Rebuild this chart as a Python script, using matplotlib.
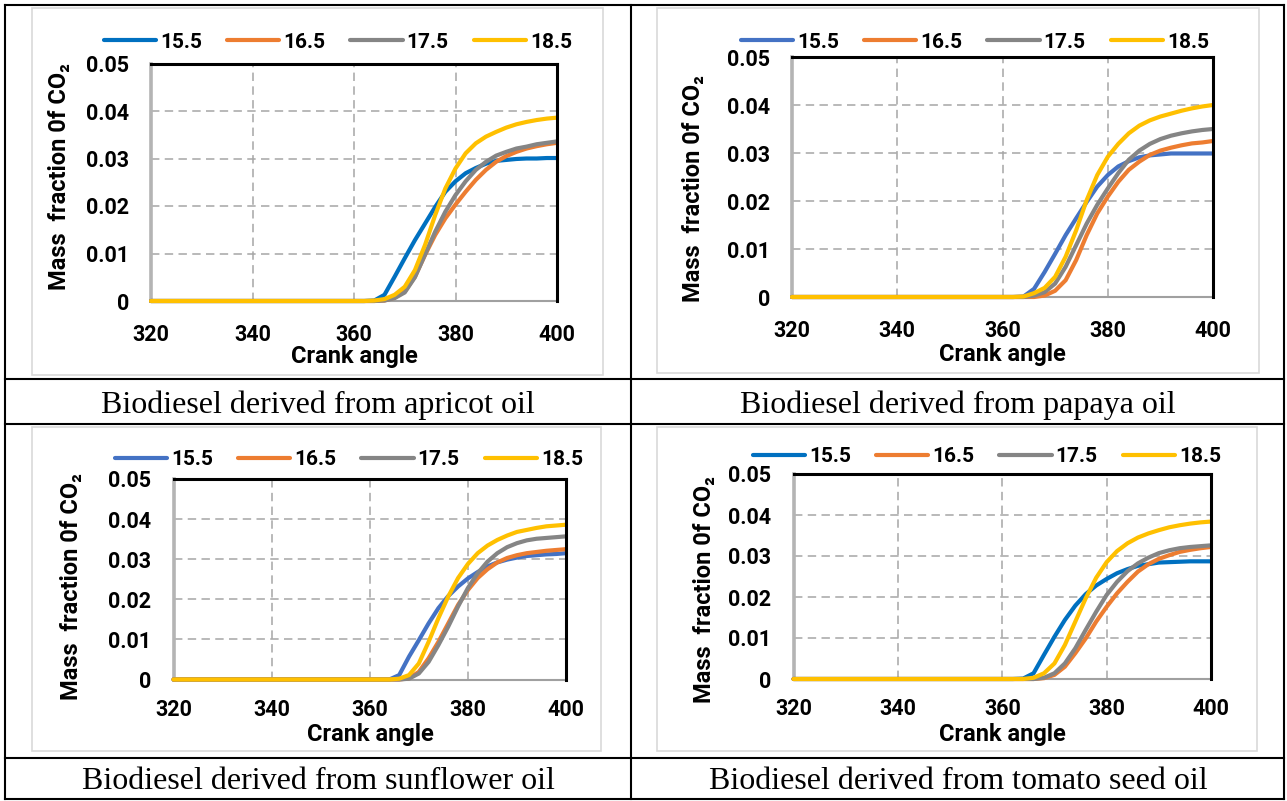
import matplotlib
matplotlib.use("Agg")
import matplotlib.pyplot as plt
from matplotlib.lines import Line2D
from matplotlib.patches import Rectangle

W, H = 1287, 801

# Crank angle samples (deg)
crank_angle = [320, 360, 362, 364, 366, 368, 370, 372, 374, 376, 378,
               380, 382, 384, 386, 388, 390, 392, 394, 396, 398, 400]

series_names = ["15.5", "16.5", "17.5", "18.5"]

# Mass fraction of CO2, apricot oil biodiesel
apricot_155 = [0, 0, 0, 0.0001, 0.0013, 0.0051, 0.0090, 0.0128, 0.0163, 0.0198, 0.0230,
               0.0252, 0.0269, 0.0280, 0.0289, 0.0295, 0.0297, 0.0299, 0.0300, 0.0300, 0.0301, 0.0301]
apricot_165 = [0, 0, 0, 0, 0.0001, 0.0007, 0.0020, 0.0051, 0.0097, 0.0139, 0.0174,
               0.0203, 0.0230, 0.0255, 0.0276, 0.0293, 0.0305, 0.0314, 0.0321, 0.0326, 0.0330, 0.0333]
apricot_175 = [0, 0, 0, 0, 0.0001, 0.0006, 0.0018, 0.0050, 0.0098, 0.0146, 0.0188,
               0.0223, 0.0252, 0.0276, 0.0293, 0.0306, 0.0314, 0.0321, 0.0325, 0.0330, 0.0333, 0.0336]
apricot_185 = [0, 0, 0, 0.0001, 0.0004, 0.0013, 0.0030, 0.0065, 0.0118, 0.0181, 0.0237,
               0.0279, 0.0311, 0.0332, 0.0346, 0.0356, 0.0365, 0.0372, 0.0377, 0.0381, 0.0384, 0.0386]

# Papaya oil biodiesel
papaya_155 = [0, 0, 0, 0.0001, 0.0017, 0.0052, 0.0090, 0.0129, 0.0164, 0.0198, 0.0230,
              0.0254, 0.0272, 0.0283, 0.0291, 0.0295, 0.0297, 0.0299, 0.0299, 0.0299, 0.0299, 0.0299]
papaya_165 = [0, 0, 0, 0, 0, 0.0003, 0.0013, 0.0035, 0.0077, 0.0129, 0.0174,
              0.0209, 0.0240, 0.0265, 0.0282, 0.0296, 0.0305, 0.0311, 0.0316, 0.0320, 0.0322, 0.0325]
papaya_175 = [0, 0, 0, 0, 0.0003, 0.0010, 0.0028, 0.0063, 0.0108, 0.0153, 0.0192,
              0.0226, 0.0258, 0.0286, 0.0305, 0.0319, 0.0329, 0.0336, 0.0341, 0.0345, 0.0348, 0.0350]
papaya_185 = [0, 0, 0, 0.0001, 0.0008, 0.0019, 0.0042, 0.0084, 0.0139, 0.0202, 0.0254,
              0.0292, 0.0319, 0.0341, 0.0357, 0.0368, 0.0376, 0.0382, 0.0388, 0.0393, 0.0397, 0.0400]

# Sunflower oil biodiesel
sunflower_155 = [0, 0, 0, 0, 0.0011, 0.0057, 0.0098, 0.0140, 0.0178, 0.0208, 0.0232,
                 0.0252, 0.0268, 0.0282, 0.0292, 0.0299, 0.0304, 0.0308, 0.0310, 0.0312, 0.0313, 0.0315]
sunflower_165 = [0, 0, 0, 0, 0, 0.0003, 0.0019, 0.0053, 0.0094, 0.0140, 0.0186,
                 0.0223, 0.0253, 0.0275, 0.0292, 0.0303, 0.0310, 0.0315, 0.0318, 0.0321, 0.0323, 0.0325]
sunflower_175 = [0, 0, 0, 0, 0, 0.0002, 0.0015, 0.0044, 0.0086, 0.0132, 0.0182,
                 0.0228, 0.0265, 0.0294, 0.0315, 0.0330, 0.0340, 0.0347, 0.0351, 0.0353, 0.0355, 0.0357]
sunflower_185 = [0, 0, 0, 0, 0.0002, 0.0011, 0.0040, 0.0094, 0.0153, 0.0207, 0.0253,
                 0.0288, 0.0315, 0.0334, 0.0348, 0.0359, 0.0368, 0.0373, 0.0378, 0.0382, 0.0384, 0.0386]

# Tomato seed oil biodiesel
tomato_155 = [0, 0, 0, 0.0001, 0.0014, 0.0059, 0.0103, 0.0144, 0.0179, 0.0207, 0.0228,
              0.0244, 0.0258, 0.0268, 0.0276, 0.0280, 0.0284, 0.0285, 0.0286, 0.0287, 0.0287, 0.0287]
tomato_165 = [0, 0, 0, 0, 0, 0.0002, 0.0010, 0.0030, 0.0063, 0.0099, 0.0140,
              0.0176, 0.0209, 0.0237, 0.0262, 0.0280, 0.0293, 0.0302, 0.0310, 0.0315, 0.0319, 0.0322]
tomato_175 = [0, 0, 0, 0, 0, 0.0003, 0.0014, 0.0038, 0.0075, 0.0120, 0.0164,
              0.0205, 0.0237, 0.0263, 0.0282, 0.0296, 0.0307, 0.0314, 0.0319, 0.0322, 0.0324, 0.0326]
tomato_185 = [0, 0, 0, 0, 0.0003, 0.0014, 0.0038, 0.0083, 0.0140, 0.0197, 0.0247,
              0.0285, 0.0312, 0.0331, 0.0345, 0.0355, 0.0363, 0.0370, 0.0375, 0.0379, 0.0382, 0.0384]

captions = ["Biodiesel derived from apricot oil",
            "Biodiesel derived from papaya oil",
            "Biodiesel derived from sunflower oil",
            "Biodiesel derived from tomato seed oil"]

x_ticks = [320, 340, 360, 380, 400]
y_ticks = [0, 0.01, 0.02, 0.03, 0.04, 0.05]
y_tick_labels = ["0", "0.01", "0.02", "0.03", "0.04", "0.05"]

ORANGE, GREY, YELLOW = "#ED7D31", "#858585", "#FFC000"
DARK_BLUE, LIGHT_BLUE = "#0070C0", "#4472C4"

panels = [
    dict(data=[apricot_155, apricot_165, apricot_175, apricot_185], blue=DARK_BLUE,
         ax=(151, 63.5, 557, 301), frame=(32, 8, 603, 375), legend=(338, 42),
         ylab=(59, 177), xlab=(354, 356), xpad=16.5, cap=(318, 413)),
    dict(data=[papaya_155, papaya_165, papaya_175, papaya_185], blue=LIGHT_BLUE,
         ax=(792, 57, 1213, 297), frame=(657, 8, 1259, 373), legend=(975, 42),
         ylab=(694, 189), xlab=(1002, 355), xpad=16.5, cap=(958, 413)),
    dict(data=[sunflower_155, sunflower_165, sunflower_175, sunflower_185], blue=LIGHT_BLUE,
         ax=(173.5, 479, 566, 679.5), frame=(32, 427, 601, 751), legend=(349, 460),
         ylab=(71, 587), xlab=(370, 735), xpad=14, cap=(318, 789)),
    dict(data=[tomato_155, tomato_165, tomato_175, tomato_185], blue=DARK_BLUE,
         ax=(793.5, 474, 1211, 679), frame=(657, 427, 1257, 751), legend=(987, 457),
         ylab=(704, 590), xlab=(1002, 735), xpad=14, cap=(958, 789)),
]

SANS = ["Roboto", "DejaVu Sans"]


def fx(px):
    return px / W


def fy(py):
    return 1 - py / H


fig = plt.figure(figsize=(W / 100, H / 100), dpi=100)
fig.patch.set_facecolor("white")

for p in panels:
    l, t, r, b = p["frame"]
    fig.add_artist(Rectangle((fx(l), fy(b)), fx(r - l), (b - t) / H, transform=fig.transFigure,
                             facecolor="none", edgecolor="#D9D9D9", linewidth=1.2, zorder=-1))

    l, t, r, b = p["ax"]
    ax = fig.add_axes([fx(l), fy(b), fx(r - l), (b - t) / H])
    colors = [p["blue"], ORANGE, GREY, YELLOW]
    for name, vals, c in zip(series_names, p["data"], colors):
        ax.plot(crank_angle, vals, color=c, linewidth=3.0, label=name,
                solid_capstyle="round", clip_on=False, zorder=3)

    ax.set_xlim(320, 400)
    ax.set_ylim(0, 0.05)
    ax.set_xticks(x_ticks)
    ax.set_yticks(y_ticks)
    ax.set_yticklabels(y_tick_labels)
    ax.tick_params(length=0, labelsize=15.5)
    ax.tick_params(axis="y", pad=16)
    ax.tick_params(axis="x", pad=p["xpad"])
    for lab in ax.get_xticklabels() + ax.get_yticklabels():
        lab.set_fontfamily(SANS)
        lab.set_fontweight("bold")

    ax.grid(True, color="#A6A6A6", linewidth=1.1, linestyle=(0, (5.5, 3.5)))
    ax.set_axisbelow(True)

    for side in ("top", "right"):
        ax.spines[side].set_visible(True)
        ax.spines[side].set_edgecolor("black")
        ax.spines[side].set_linewidth(2.2)
        ax.spines[side].set_zorder(5)
    ax.spines["left"].set_edgecolor("#B4B4B4")
    ax.spines["left"].set_linewidth(2.6)
    ax.spines["bottom"].set_edgecolor("#A0A0A0")
    ax.spines["bottom"].set_linewidth(1.5)

    ax.legend(loc="center", bbox_to_anchor=(fx(p["legend"][0]), fy(p["legend"][1])),
              bbox_transform=fig.transFigure, ncol=4, frameon=False,
              handlelength=2.5, handletextpad=0.2, columnspacing=1.2,
              borderpad=0, borderaxespad=0,
              prop=dict(family=SANS, weight="bold", size=15))

    fig.text(fx(p["ylab"][0]), fy(p["ylab"][1]), "Mass  fraction 0f CO\u2082",
             rotation=90, ha="center", va="center", fontsize=17,
             family=SANS, weight="bold")
    fig.text(fx(p["xlab"][0]), fy(p["xlab"][1]), "Crank angle",
             ha="center", va="center", fontsize=17, family=SANS, weight="bold")

for p, cap in zip(panels, captions):
    fig.text(fx(p["cap"][0]), fy(p["cap"][1]), cap, ha="center", va="baseline",
             fontsize=23, family=["Liberation Serif", "DejaVu Serif"])

# Table rules
rules = [
    ((5, 5), (1284, 5)), ((5, 799), (1284, 799)),
    ((5, 5), (5, 799)), ((1284, 5), (1284, 799)), ((631, 5), (631, 799)),
    ((5, 379), (1284, 379)), ((5, 424), (1284, 424)), ((5, 758), (1284, 758)),
]
for (x0, y0), (x1, y1) in rules:
    fig.add_artist(Line2D([fx(x0), fx(x1)], [fy(y0), fy(y1)], transform=fig.transFigure,
                          color="black", linewidth=1.5, zorder=5))

fig.savefig("out.png", dpi=100, facecolor="white")
